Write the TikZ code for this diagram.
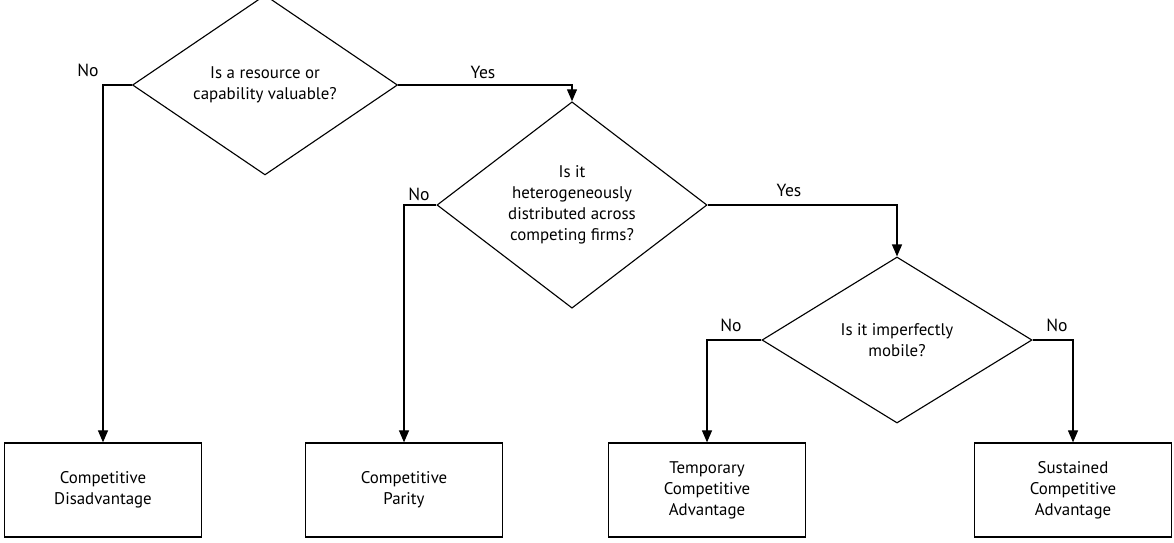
\documentclass[tikz,border=0pt]{standalone}
\usepackage{fontspec}
\setmainfont{PT Sans}
\usetikzlibrary{arrows.meta,shapes.geometric}
\tikzset{
  decision/.style={diamond, draw=black, line width=0.8pt, fill=white,
             inner sep=0pt, align=center, font=\fontsize{12}{15}\selectfont},
  outcome/.style={rectangle, draw=black, line width=0.9pt, fill=white,
             minimum width=4.925cm, minimum height=2.35cm, align=center,
             font=\fontsize{12}{15}\selectfont},
  flow/.style={line width=0.9pt, -{Triangle[length=3mm,width=2.5mm]}},
  answer/.style={font=\fontsize{12.5}{15}\selectfont, inner sep=1pt},
}

\begin{document}
\begin{tikzpicture}[x=0.025cm, y=-0.025cm]
\useasboundingbox (0,0) rectangle (1174,542);
% ===================== decisions
\node[decision, minimum width=6.625cm, minimum height=4.075cm] (valuable) at (265,85)
   {Is a resource or\\ capability valuable?};
\node[decision, minimum width=6.75cm, minimum height=4.1cm] (hetero) at (572,205)
   {Is it\\ heterogeneously\\ distributed across\\ competing firms?};
\node[decision, minimum width=6.75cm, minimum height=4.15cm] (mobile) at (897,340)
   {Is it imperfectly\\ mobile?};
% ===================== outcomes
\node[outcome] (disadv) at (103,490) {Competitive\\ Disadvantage};
\node[outcome] (parity) at (404,490) {Competitive\\ Parity};
\node[outcome] (tempadv) at (707,490) {Temporary\\ Competitive\\ Advantage};
\node[outcome] (sustadv) at (1073,490) {Sustained\\ Competitive\\ Advantage};
% ===================== connectors
\draw[flow] (valuable.west) -| (disadv.north);
\draw[flow] (valuable.east) -| (hetero.north);
\draw[flow] (hetero.west) -| (parity.north);
\draw[flow] (hetero.east) -| (mobile.north);
\draw[flow] (mobile.west) -| (tempadv.north);
\draw[flow] (mobile.east) -| (sustadv.north);
% answers
\node[answer] (novaluable) at (88,70) {No};
\node[answer] (yesvaluable) at (483,72) {Yes};
\node[answer] (nohetero) at (419,194) {No};
\node[answer] (yeshetero) at (789,190) {Yes};
\node[answer] (nomobilel) at (731,325) {No};
\node[answer] (nomobiler) at (1057,325) {No};
\end{tikzpicture}
\end{document}
